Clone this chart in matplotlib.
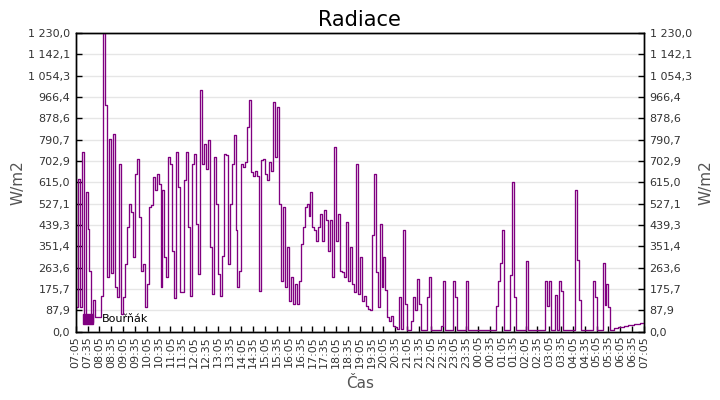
import numpy as np
import matplotlib
matplotlib.use("Agg")
import matplotlib.pyplot as plt
from matplotlib.patches import Patch
from matplotlib.ticker import FixedLocator, FuncFormatter

title = "Radiace"
series_name = "Bouřňák"
y_label = "W/m2"
x_label = "Čas"
step_minutes = 5
y_max = 1230.0
n_y_intervals = 14

# 5-minute samples from 07:05 to 07:05 next day (W/m2)
radiation = [
    # 07:05 - 09:00
    100, 630, 100, 740, 50, 575, 423, 251, 40, 130, 60, 59,
    59, 148, 1230, 932, 224, 795, 240, 815, 183, 142, 692, 73,
    # 09:05 - 11:00
    142, 280, 430, 527, 492, 307, 650, 712, 472, 251, 280, 100,
    197, 513, 520, 637, 582, 650, 609, 183, 582, 307, 224, 720,
    # 11:05 - 13:00
    690, 334, 140, 740, 595, 162, 162, 623, 740, 430, 148, 690,
    733, 444, 238, 994, 690, 774, 671, 788, 348, 155, 720, 527,
    # 13:05 - 15:00
    238, 148, 313, 733, 726, 280, 527, 690, 808, 417, 183, 251,
    690, 680, 700, 843, 953, 657, 640, 660, 640, 169, 705, 712,
    # 15:05 - 17:00
    650, 623, 698, 660, 946, 720, 925, 527, 210, 513, 183, 348,
    128, 224, 114, 197, 114, 210, 362, 430, 513, 527, 478, 575,
    # 17:05 - 19:00
    430, 417, 375, 430, 485, 375, 499, 458, 334, 458, 224, 760,
    375, 485, 251, 245, 224, 451, 210, 348, 197, 162, 692, 155,
    # 19:05 - 21:00
    306, 128, 148, 107, 95, 90, 396, 650, 245, 100, 444, 183,
    306, 170, 59, 45, 66, 25, 18, 11, 144, 11, 417, 114,
    # 21:05 - 23:00
    7, 7, 45, 142, 87, 217, 114, 7, 7, 7, 142, 224,
    7, 7, 7, 7, 7, 25, 210, 7, 7, 7, 7, 210,
    # 23:05 - 01:00
    144, 7, 7, 7, 7, 7, 210, 7, 7, 7, 7, 7,
    7, 7, 7, 7, 7, 7, 7, 7, 7, 107, 210, 282,
    # 01:05 - 03:00
    417, 7, 7, 7, 235, 616, 144, 7, 7, 7, 7, 7,
    289, 7, 7, 7, 7, 7, 7, 7, 7, 7, 210, 107,
    # 03:05 - 05:00
    210, 7, 7, 149, 7, 210, 169, 7, 7, 7, 7, 7,
    7, 582, 293, 131, 7, 7, 7, 7, 7, 7, 210, 144,
    # 05:05 - 07:05
    7, 7, 7, 282, 111, 197, 103, 7, 7, 13, 15, 17,
    18, 21, 23, 25, 26, 27, 29, 31, 32, 33, 34, 34,
    35,
]

x_tick_labels = [
    "07:05", "07:35", "08:05", "08:35", "09:05", "09:35", "10:05", "10:35",
    "11:05", "11:35", "12:05", "12:35", "13:05", "13:35", "14:05", "14:35",
    "15:05", "15:35", "16:05", "16:35", "17:05", "17:35", "18:05", "18:35",
    "19:05", "19:35", "20:05", "20:35", "21:05", "21:35", "22:05", "22:35",
    "23:05", "23:35", "00:05", "00:35", "01:05", "01:35", "02:05", "02:35",
    "03:05", "03:35", "04:05", "04:35", "05:05", "05:35", "06:05", "06:35",
    "07:05",
]

line_color = "#800080"
minutes = np.arange(len(radiation)) * step_minutes
x_tick_pos = np.arange(len(x_tick_labels)) * 30
y_ticks = [k * y_max / n_y_intervals for k in range(n_y_intervals + 1)]


def cz_fmt(v, pos=None):
    s = f"{v:,.1f}"
    return s.replace(",", " ").replace(".", ",")


fig = plt.figure(figsize=(7.2, 4.0), dpi=100)
ax = fig.add_axes([0.1051, 0.171, 0.7893, 0.7465])

ax.plot(minutes, radiation, color=line_color, lw=0.95, drawstyle="steps-post",
        zorder=3)

ax.set_xlim(0, minutes[-1])
ax.set_ylim(0, y_max)
ax.set_xticks(x_tick_pos)
ax.set_xticklabels(x_tick_labels, rotation=90, fontsize=8, color="#333333")
ax.yaxis.set_major_locator(FixedLocator(y_ticks))
ax.yaxis.set_major_formatter(FuncFormatter(cz_fmt))
ax.tick_params(axis="both", direction="in", length=4, width=1, color="black")
ax.tick_params(axis="y", labelsize=8, labelcolor="#333333", pad=4)
ax.tick_params(axis="x", pad=3)
ax.grid(axis="y", color="#e6e6e6", lw=1, zorder=0)
ax.set_axisbelow(True)
for sp in ax.spines.values():
    sp.set_color("black")
    sp.set_linewidth(1)

ax2 = ax.twinx()
ax2.set_ylim(0, y_max)
ax2.yaxis.set_major_locator(FixedLocator(y_ticks))
ax2.yaxis.set_major_formatter(FuncFormatter(cz_fmt))
ax2.tick_params(axis="y", direction="in", length=4, width=1, color="black",
                labelsize=8, labelcolor="#333333", pad=4)
for sp in ax2.spines.values():
    sp.set_color("black")
    sp.set_linewidth(1)

ax.set_title(title, fontsize=15, color="black", pad=5)
ax.set_ylabel(y_label, fontsize=11, color="#555555", labelpad=2)
ax2.set_ylabel(y_label, fontsize=11, color="#555555", labelpad=5)
ax.set_xlabel(x_label, fontsize=11, color="#555555", labelpad=6)

handle = Patch(facecolor=line_color, edgecolor=line_color)
leg = ax2.legend(handles=[handle], labels=[series_name], loc="lower left",
                 frameon=False, fontsize=8, handlelength=0.9, handleheight=1.0,
                 handletextpad=0.8, borderaxespad=0.3, borderpad=0.35)
leg.set_zorder(10)

fig.savefig("out.png", dpi=100)
